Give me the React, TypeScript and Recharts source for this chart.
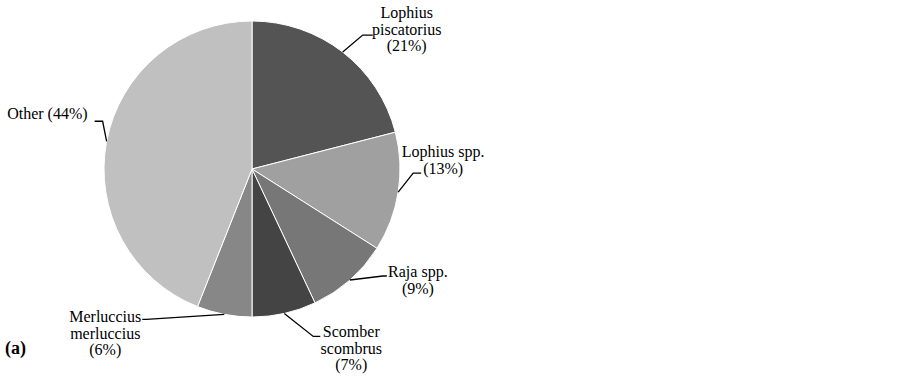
import { Cell, Pie, PieChart } from 'recharts';

const species = [
  'Lophius piscatorius',
  'Lophius spp.',
  'Raja spp.',
  'Scomber scombrus',
  'Merluccius merluccius',
  'Other',
];
const shares = [21, 13, 9, 7, 6, 44];
const nameLines = [
  ['Lophius', 'piscatorius'],
  ['Lophius spp.'],
  ['Raja spp.'],
  ['Scomber', 'scombrus'],
  ['Merluccius', 'merluccius'],
  ['Other'],
];
const sliceColors = ['#545454', '#a0a0a0', '#777777', '#444444', '#878787', '#c0c0c0'];

// leader line layout, relative to the point on the rim at the slice's mid angle
const labelLayout = [
  { ex: 20, ey: -17, stub: 10, tx: 34, ty: -17, anchor: 'middle', inline: false },
  { ex: 15, ey: -19, stub: 8, tx: 22, ty: -16, anchor: 'middle', inline: false },
  { ex: 33, ey: -4, stub: 4, tx: 31, ty: 1, anchor: 'middle', inline: false },
  { ex: 29, ey: 23, stub: 7, tx: 31, ty: 1, anchor: 'middle', inline: false },
  { ex: -78, ey: 5, stub: -4, tx: -37, ty: 3, anchor: 'middle', inline: false },
  { ex: -4, ey: -20, stub: -8, tx: -7, ty: -2, anchor: 'end', inline: true },
];

const data = species.map((name, i) => ({ name, value: shares[i] }));

const RADIAN = Math.PI / 180;
const LINE_H = 16.5;
const FONT = '"Liberation Serif", "Times New Roman", serif';

function renderLabel(props: any) {
  const { cx, cy, midAngle, outerRadius, index, value } = props;
  const lay = labelLayout[index];
  const sx = cx + outerRadius * Math.cos(-midAngle * RADIAN);
  const sy = cy + outerRadius * Math.sin(-midAngle * RADIAN);
  const mx = sx + lay.ex;
  const my = sy + lay.ey;
  const endX = mx + lay.stub;
  const pct = `(${value}%)`;
  const lines = lay.inline
    ? [`${nameLines[index].join(' ')} ${pct}`]
    : [...nameLines[index], pct];

  return (
    <g key={`lbl-${index}`}>
      <polyline
        points={`${sx},${sy} ${mx},${my} ${endX},${my}`}
        fill="none"
        stroke="#000"
        strokeWidth={1.3}
      />
      <text
        x={endX + lay.tx}
        y={my + lay.ty}
        textAnchor={lay.anchor}
        fill="#000"
        style={{ fontFamily: FONT, fontSize: 16 }}
      >
        {lines.map((line, j) => (
          <tspan key={j} x={endX + lay.tx} dy={j === 0 ? 0 : LINE_H}>
            {line}
          </tspan>
        ))}
      </text>
    </g>
  );
}

export default function App() {
  return (
    <div style={{ position: 'absolute', left: 0, top: 0, width: 903, height: 378, background: '#fff' }}>
      <PieChart width={903} height={378} margin={{ top: 0, right: 0, bottom: 0, left: 0 }}>
        <Pie
          data={data}
          dataKey="value"
          nameKey="name"
          cx={252}
          cy={169}
          outerRadius={148}
          startAngle={90}
          endAngle={-270}
          stroke="#ffffff"
          strokeWidth={1}
          label={renderLabel}
          labelLine={false}
          isAnimationActive={false}
        >
          {data.map((d, i) => (
            <Cell key={d.name} fill={sliceColors[i]} />
          ))}
        </Pie>
        <text x={5} y={354} fill="#000" style={{ fontFamily: FONT, fontSize: 18, fontWeight: 'bold' }}>
          (a)
        </text>
      </PieChart>
    </div>
  );
}
